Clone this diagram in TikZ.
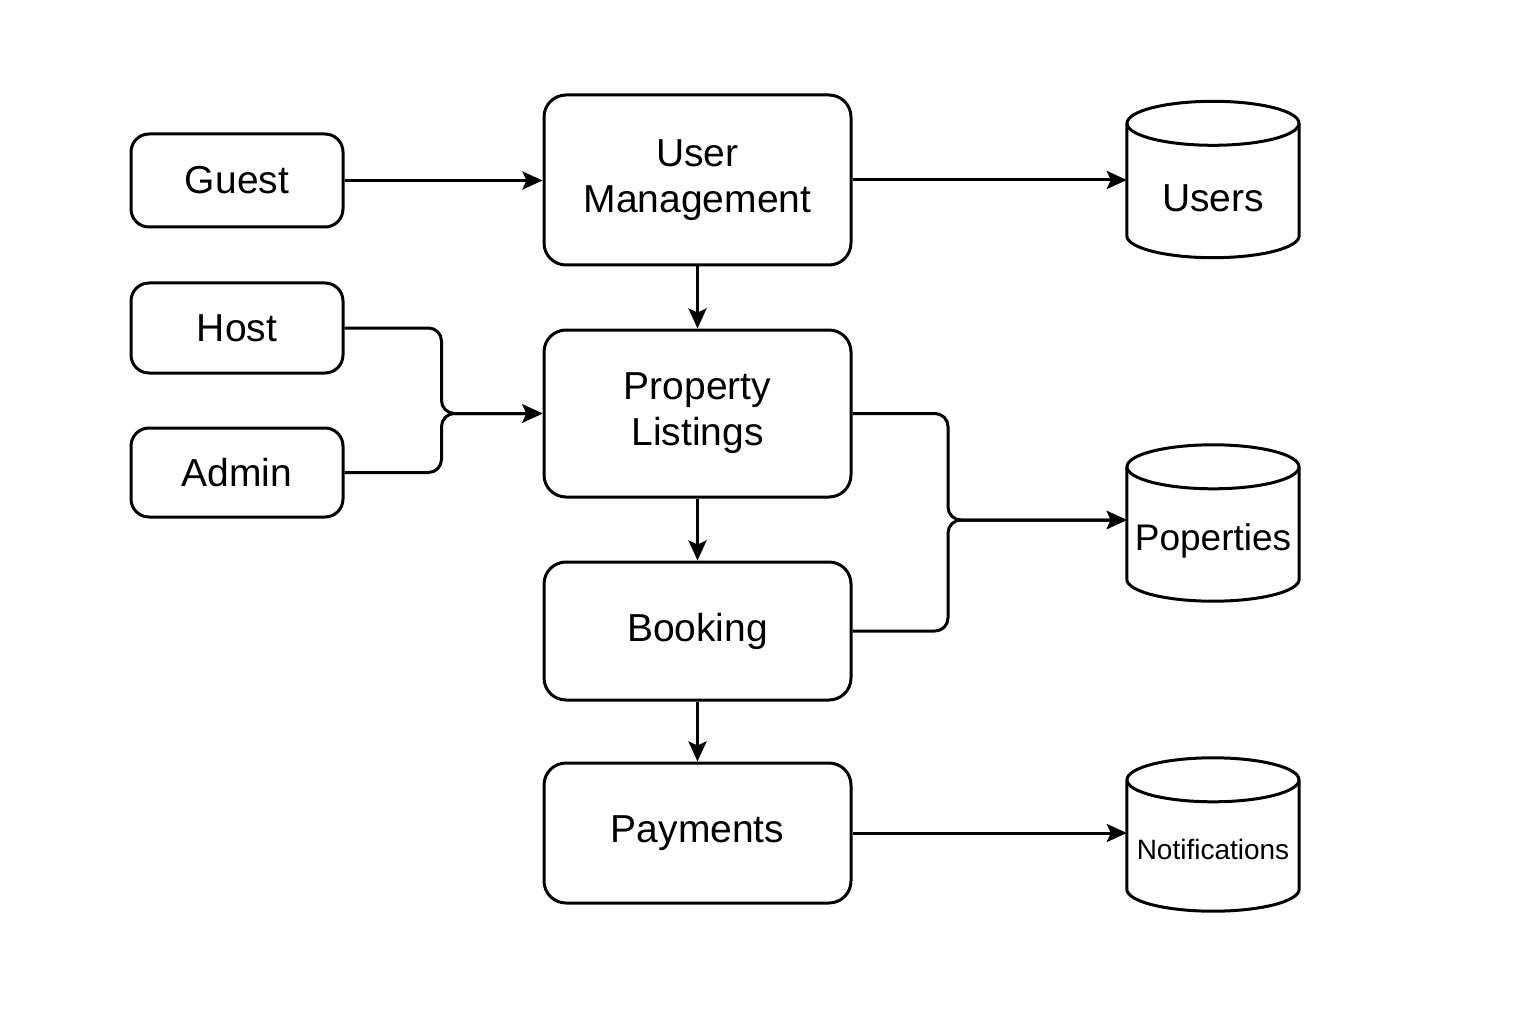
\documentclass[tikz,border=0pt]{standalone}
\usepackage{fontspec}
\setmainfont{Liberation Sans}
\usetikzlibrary{arrows.meta,calc}
\begin{document}
\begin{tikzpicture}[x=1pt,y=-1pt,
  line/.style={line width=3pt, line join=round},
  box/.style={draw, line width=3pt, rounded corners=22pt, align=center,
    font=\fontsize{39}{46}\selectfont, inner sep=0pt},
  actor/.style={box, minimum width=212pt, minimum height=92pt, rounded corners=18pt},
  module/.style={box, minimum width=307pt},
  conn/.style={line, rounded corners=13pt, -{Stealth[length=20pt,width=18pt,inset=4pt]}},
  dbbox/.style={minimum width=172pt, minimum height=156pt, inner sep=0pt},
  dblabel/.style={font=\fontsize{39}{46}\selectfont, inner sep=0pt},
]
\useasboundingbox (0,0) rectangle (1536,1024);

% actors
\node[actor, minimum height=93pt] (guest) at (237,180.5) {Guest};
\node[actor, minimum height=90pt] (host)  at (237,328) {Host};
\node[actor, minimum height=89pt] (admin) at (237,472.5) {Admin};

% service modules
\node[module, minimum height=170pt] (um)      at (697.5,180)   {User\\Management};
\node[module, minimum height=167pt] (pl)      at (697.5,413.5) {Property\\Listings};
\node[module, minimum height=138pt] (booking) at (697.5,631)   {Booking};
\node[module, minimum height=140pt] (pay)     at (697.5,833)   {Payments};

% data stores
\node[dbbox] (users) at (1213,179.5) {};
\node[dblabel] (users-text) at (1213,198) {Users};
\node[dbbox] (props) at (1213,523) {};
\node[dblabel, font=\fontsize{37}{44}\selectfont] (props-text) at (1213,541) {Poperties};
\node[dbbox, minimum height=153pt] (notes) at (1213,834.5) {};
\node[dblabel, font=\fontsize{28}{34}\selectfont] (notes-text) at (1213,849) {Notifications};

\foreach \n in {users,props,notes}{
  \draw[line] ($(\n.north)+(0,22)$) ellipse [x radius=86pt, y radius=22pt];
  \draw[line] ($(\n.north west)+(0,22)$) -- ($(\n.south west)+(0,-22)$)
     .. controls +(0,12.15) and +(-47.5,0) .. (\n.south)
     .. controls +(47.5,0) and +(0,12.15) .. ($(\n.south east)+(0,-22)$)
     -- ($(\n.north east)+(0,22)$);
}

% junctions of merged connectors
\coordinate (hj) at ($(pl.west)+(-101,0)$);
\coordinate (pj) at (948,520);

% connectors
\draw[conn] (guest.east) -- (guest.east -| um.west);
\draw[conn] (um.east) -- (um.east -| users.west);
\draw[conn] (host.east) -| (hj) -- (pl.west);
\draw[conn] (admin.east) -| (hj) -- (pl.west);
\draw[conn] (um.south) -- (pl.north);
\draw[conn] (pl.south) -- (booking.north);
\draw[conn] (booking.south) -- (pay.north);
\draw[conn] (pl.east) -| (pj) -- (pj -| props.west);
\draw[conn] (booking.east) -| (pj) -- (pj -| props.west);
\draw[conn] (pay.east) -- (pay.east -| notes.west);
\end{tikzpicture}
\end{document}
